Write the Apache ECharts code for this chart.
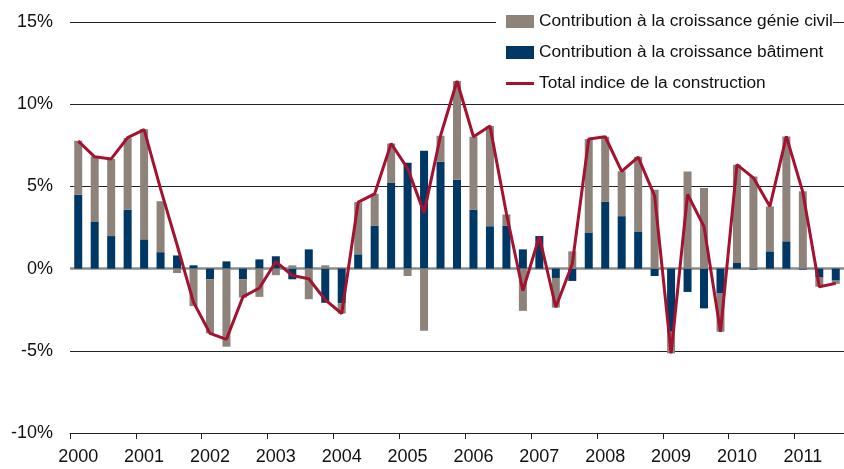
<!DOCTYPE html>
<html>
<head>
<meta charset="utf-8">
<script src="https://cdn.jsdelivr.net/npm/echarts@6/dist/echarts.min.js"></script>
<style>
html,body{margin:0;padding:0;background:#fff;}
#chart{width:844px;height:469px;}
</style>
</head>
<body>
<div id="chart"></div>
<script>
// Tick labels (years) and quarterly categories 2000 T1 .. 2011 T3
const years = ['2000','2001','2002','2003','2004','2005','2006','2007','2008','2009','2010','2011'];
const quarterNames = ['T1','T2','T3','T4'];
const categories = [];
years.forEach(function (y) {
  quarterNames.forEach(function (q) {
    if (categories.length < 47) categories.push(y + ' ' + q);
  });
});

// Contribution à la croissance bâtiment (%)
const batiment = [
  4.50, 2.87, 1.98, 3.59,
  1.78, 1.00, 0.80, 0.20,
  -0.65, 0.44, -0.65, 0.56,
  0.75, -0.65, 1.17, -2.08,
  -2.10, 0.87, 2.62, 5.23,
  6.44, 7.17, 6.50, 5.41,
  3.59, 2.58, 2.62, 1.17,
  1.98, -0.57, -0.75, 2.20,
  4.08, 3.19, 2.26, -0.45,
  -3.84, -1.42, -2.42, -1.52,
  0.34, -0.06, 1.05, 1.66,
  -0.06, -0.55, -0.73
];

// Contribution à la croissance génie civil (%)
const genieCivil = [
  3.28, 3.95, 4.69, 4.35,
  6.70, 3.10, -0.27, -2.28,
  -3.29, -4.75, -1.11, -1.72,
  -0.40, 0.20, -1.86, 0.20,
  -0.63, 3.17, 1.93, 2.38,
  -0.45, -3.78, 1.58, 6.00,
  4.43, 6.10, 0.67, -2.57,
  0.00, -1.80, 1.05, 5.68,
  3.94, 2.73, 4.54, 4.80,
  -1.31, 5.90, 4.90, -2.32,
  5.98, 5.60, 2.73, 6.38,
  4.70, -0.55, -0.20
];

// Total indice de la construction (%)
const total = [
  7.75, 6.80, 6.67, 7.97,
  8.45, 4.85, 1.45, -2.05,
  -3.94, -4.30, -1.72, -1.18,
  0.42, -0.42, -0.62, -1.90,
  -2.73, 4.04, 4.55, 7.61,
  6.10, 3.39, 8.08, 11.41,
  8.02, 8.68, 3.35, -1.35,
  1.95, -2.35, 0.28, 7.88,
  8.02, 5.92, 6.78, 4.42,
  -5.15, 4.52, 2.55, -3.84,
  6.32, 5.52, 3.78, 8.04,
  4.65, -1.10, -0.90
];

const yTicks = { min: -10, max: 15, interval: 5 };

const FONT = '"Liberation Sans", Arial, Helvetica, sans-serif';
const chart = echarts.init(document.getElementById('chart'), null, { renderer: 'canvas' });

chart.setOption({
  animation: false,
  backgroundColor: '#ffffff',
  textStyle: { fontFamily: FONT },
  grid: { left: 70, right: 0, top: 22, bottom: 36, containLabel: false },
  legend: {
    orient: 'vertical',
    left: 496,
    top: 4,
    padding: [9, 0, 6, 10],
    backgroundColor: '#ffffff',
    itemWidth: 28,
    itemHeight: 13,
    itemGap: 14,
    textStyle: { fontFamily: FONT, fontSize: 17.3, color: '#111', lineHeight: 17 },
    data: [
      { name: 'Contribution à la croissance génie civil', icon: 'rect' },
      { name: 'Contribution à la croissance bâtiment', icon: 'rect' },
      { name: 'Total indice de la construction', icon: 'path://M0,0 L28,0 L28,3 L0,3 Z' }
    ]
  },
  xAxis: {
    type: 'category',
    data: categories,
    boundaryGap: true,
    axisLine: { onZero: false, lineStyle: { color: '#222', width: 1 } },
    axisTick: { show: true, interval: 3, alignWithLabel: false, length: 6, lineStyle: { color: '#222' } },
    axisLabel: {
      interval: 3,
      margin: 15,
      fontFamily: FONT,
      fontSize: 18,
      color: '#111',
      formatter: function (v) { return v.slice(0, 4); }
    },
    splitLine: { show: false }
  },
  yAxis: {
    type: 'value',
    min: yTicks.min,
    max: yTicks.max,
    interval: yTicks.interval,
    axisLine: { show: false },
    axisTick: { show: false },
    axisLabel: {
      margin: 17,
      fontFamily: FONT,
      fontSize: 18,
      color: '#111',
      formatter: '{value}%'
    },
    splitLine: { show: true, lineStyle: { color: '#222', width: 1 } }
  },
  series: [
    {
      name: 'Contribution à la croissance bâtiment',
      type: 'bar',
      stack: 'contrib',
      barWidth: 8,
      itemStyle: { color: '#003865' },
      data: batiment,
      z: 3,
      markLine: {
        silent: true,
        symbol: 'none',
        label: { show: false },
        lineStyle: { color: '#8a8a8a', width: 2.5, type: 'solid' },
        data: [{ yAxis: 0 }],
        z: 2
      }
    },
    {
      name: 'Contribution à la croissance génie civil',
      type: 'bar',
      stack: 'contrib',
      barWidth: 8,
      itemStyle: { color: '#8d837a' },
      data: genieCivil,
      z: 3
    },
    {
      name: 'Total indice de la construction',
      type: 'line',
      symbol: 'none',
      showSymbol: false,
      lineStyle: { color: '#a3122f', width: 3 },
      itemStyle: { color: '#a3122f' },
      data: total,
      z: 5
    }
  ]
});
</script>
</body>
</html>
